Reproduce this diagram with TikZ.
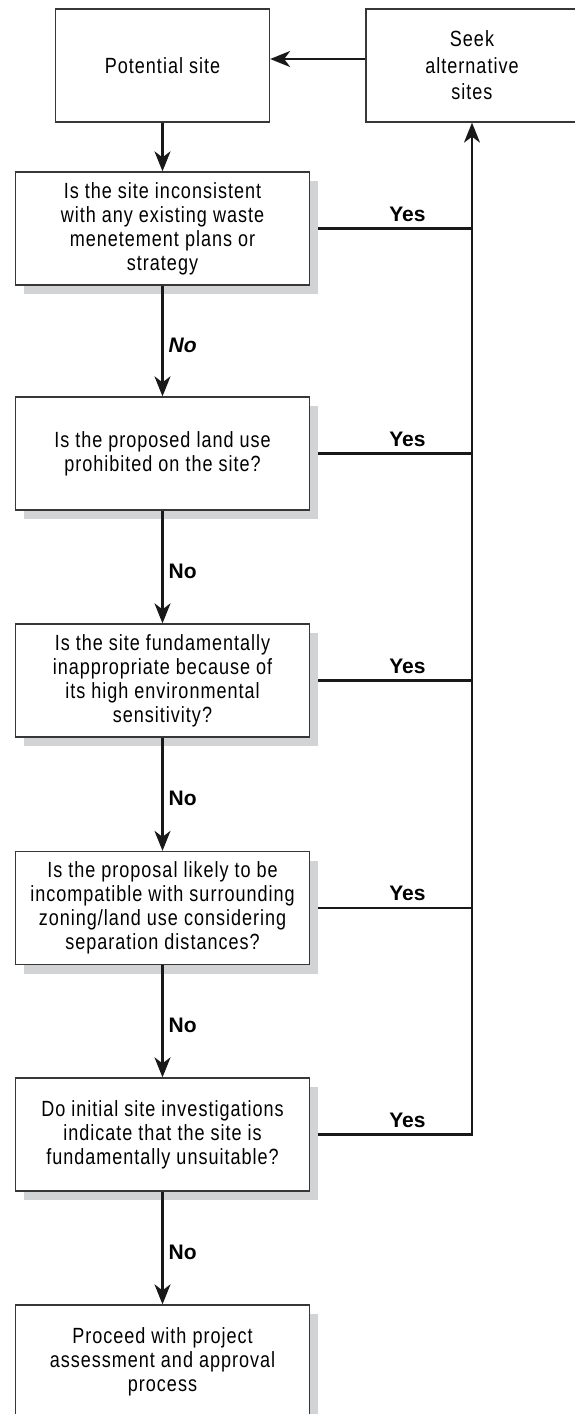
\documentclass[tikz,border=0pt]{standalone}
\usepackage{fontspec}
\setmainfont{Liberation Sans}
\newfontfamily\boxfont[FakeStretch=0.82,LetterSpace=4.5]{Liberation Sans}
\usepackage{tikz}
\usetikzlibrary{arrows.meta,positioning,shadows}
\definecolor{shadowgray}{RGB}{209,211,212}
\definecolor{edgegray}{RGB}{55,55,55}
\tikzset{
  box/.style={draw=edgegray, line width=1.3pt, fill=white, minimum width=294pt,
    minimum height=113pt, inner sep=0pt, align=center,
    font=\boxfont\fontsize{22}{24}\selectfont},
  shadowbox/.style={box, drop shadow={shadow xshift=8pt, shadow yshift=-9pt,
    fill=shadowgray, opacity=1}},
  flow/.style={line width=2.2pt, draw=black!90},
  arr/.style={flow, -{Stealth[length=20pt,width=16pt,inset=6pt]}},
  yeslbl/.style={font=\bfseries\fontsize{21}{24}\selectfont, inner sep=0pt, above=6pt},
  nolbl/.style={font=\bfseries\fontsize{21}{24}\selectfont, inner sep=0pt, right=5pt, yshift=-4pt}
}
\begin{document}
\begin{tikzpicture}[x=1pt,y=-1pt]
\useasboundingbox (0,0) rectangle (575,1414);
% Start and loop-back boxes
\node[box, minimum width=214pt] (pot) at (162.5,65.5) {Potential site};
\node[box, minimum width=212pt, font=\boxfont\fontsize{22}{26.5}\selectfont] (seek) at (472,65.5) {Seek\\alternative\\sites};
% Questions
\node[shadowbox] (q1) at (162.5,228.5) {Is the site inconsistent\\with any existing waste\\menetement plans or\\strategy};
\node[shadowbox] (q2) at (162.5,453.5) {Is the proposed land use\\prohibited on the site?};
\node[shadowbox] (q3) at (162.5,680.5) {Is the site fundamentally\\inappropriate because of\\its high environmental\\sensitivity?};
\node[shadowbox] (q4) at (162.5,908) {Is the proposal likely to be\\incompatible with surrounding\\zoning/land use considering\\separation distances?};
\node[shadowbox] (q5) at (162.5,1134.5) {Do initial site investigations\\indicate that the site is\\fundamentally unsuitable?};
\node[shadowbox] (q6) at (162.5,1361.5) {Proceed with project\\assessment and approval\\process};
% No branch
\draw[arr] (pot) -- (q1);
\draw[arr] (q1) -- node[nolbl, font=\bfseries\itshape\fontsize{21}{24}\selectfont] {No} (q2);
\foreach \a/\b in {q2/q3,q3/q4,q4/q5,q5/q6}{
    \draw[arr] (\a) -- node[nolbl] {No} (\b);
}
% Yes branch
\foreach \q in {q1,q2,q3,q4}{
    \draw[flow] ([xshift=8pt]\q.east) -- node[yeslbl, pos=0.58] {Yes} (seek.south |- \q.east);
}
\draw[arr] ([xshift=8pt]q5.east) -- node[yeslbl, pos=0.58] {Yes} (seek.south |- q5.east) -- (seek.south);
\draw[arr] ([yshift=6.5pt]seek.west) -- ([yshift=6.5pt]pot.east);
\end{tikzpicture}
\end{document}
